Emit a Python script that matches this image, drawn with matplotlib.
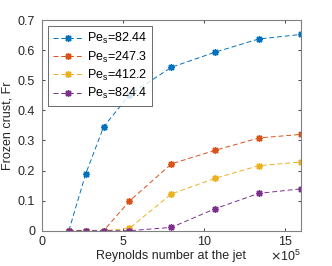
import numpy as np
import matplotlib.pyplot as plt

# Data
re_jet = [1.66e5, 2.71e5, 3.81e5, 5.40e5, 8.00e5, 10.7e5, 13.4e5, 16.0e5]
fr_82 = [0.0, 0.19, 0.345, 0.451, 0.543, 0.593, 0.637, 0.652]
fr_247 = [0.0, 0.0, 0.0, 0.098, 0.222, 0.267, 0.308, 0.320]
fr_412 = [0.0, 0.0, 0.0, 0.008, 0.122, 0.174, 0.216, 0.228]
fr_824 = [0.0, 0.0, 0.0, 0.0, 0.011, 0.073, 0.124, 0.139]
labels = ['Pe$_\\mathregular{s}$=82.44', 'Pe$_\\mathregular{s}$=247.3',
          'Pe$_\\mathregular{s}$=412.2', 'Pe$_\\mathregular{s}$=824.4']
colors = ['#0072BD', '#D95319', '#EDB120', '#7E2F8E']

plt.rcParams['font.family'] = ['Liberation Sans', 'DejaVu Sans']
plt.rcParams['font.size'] = 9

fig = plt.figure(figsize=(3.32, 2.66), dpi=100)
ax = fig.add_axes([0.1265, 0.1327, 0.7795, 0.7921])

for ys, c, lab in zip([fr_82, fr_247, fr_412, fr_824], colors, labels):
    ax.plot(re_jet, ys, color=c, linestyle=(0, (5, 3)), linewidth=0.7,
            marker=(8, 2, 0), markersize=5, markeredgewidth=1.0, label=lab)

ax.set_xlim(0, 16e5)
ax.set_ylim(0, 0.7)
ax.set_xticks([0, 5e5, 10e5, 15e5])
ax.set_yticks(np.arange(0, 0.71, 0.1))
ax.xaxis.set_major_formatter(plt.FuncFormatter(lambda v, p: f'{v / 1e5:g}'))
ax.yaxis.set_major_formatter(plt.FuncFormatter(lambda v, p: '0' if abs(v) < 1e-9 else f'{v:.1f}'))
ax.text(1.0, -0.143, '$\\times\\mathregular{10}^{\\mathregular{5}}$', transform=ax.transAxes,
        ha='right', va='baseline', fontsize=9, color='#262626')

ax.tick_params(direction='in', top=True, right=True, length=2.5, width=0.6,
               colors='#262626', labelsize=9)
ax.tick_params(axis='x', pad=4)
ax.tick_params(axis='y', pad=5)
for s in ax.spines.values():
    s.set_color('#808080')
    s.set_linewidth(0.8)

ax.set_xlabel('Reynolds number at the jet', fontsize=9, color='#262626', labelpad=1)
ax.set_ylabel('Frozen crust, Fr', fontsize=9, color='#262626', labelpad=3)

leg = ax.legend(loc='upper left', fontsize=9, frameon=True, fancybox=False,
                edgecolor='#262626', borderpad=0.4, labelspacing=0.25,
                handlelength=2.4, handletextpad=0.3, borderaxespad=0.5)
leg.get_frame().set_linewidth(0.6)

fig.savefig('out.png', dpi=100)
